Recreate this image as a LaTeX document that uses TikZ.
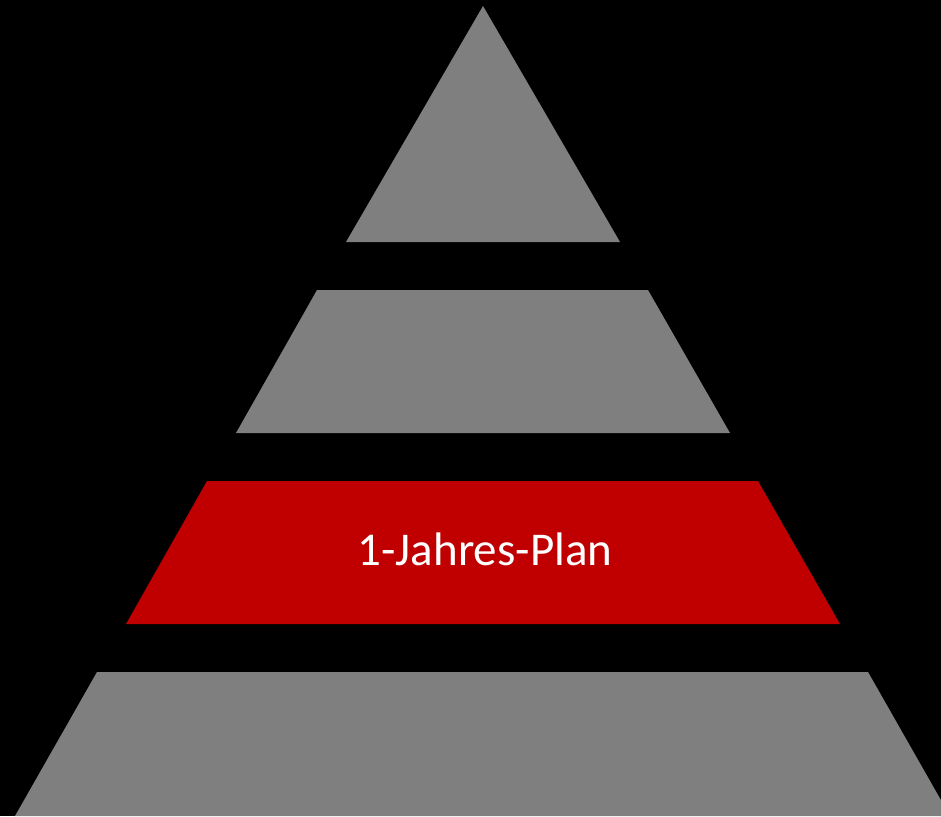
\documentclass[tikz,border=0pt]{standalone}
\usepackage{fontspec}
\setmainfont{Carlito}
\definecolor{lvgrey}{HTML}{7F7F7F}
\definecolor{lvred}{HTML}{C00000}
\begin{document}
\begin{tikzpicture}[x=1pt,y=-1pt,
  layer/.style={fill=lvgrey,draw=none},
  redlayer/.style={fill=lvred,draw=none}]
\useasboundingbox (0,0) rectangle (941,816);
\fill[black] (0,0) rectangle (941,816);
\clip (0,0) rectangle (941,816);
\fill[layer] (483,6) -- (620,242) -- (346,242) -- cycle;
\fill[layer] (317,290) -- (648,290) -- (730,433) -- (236,433) -- cycle;
\fill[redlayer] (207,481) -- (758,481) -- (840,624) -- (126,624) -- cycle;
\fill[layer] (97,672) -- (868,672) -- (950,816) -- (15,816) -- cycle;
\node[text=white,font=\fontsize{47}{47}\selectfont,inner sep=0pt] (lbl) at (485,549) {1-Jahres-Plan};
\end{tikzpicture}
\end{document}
